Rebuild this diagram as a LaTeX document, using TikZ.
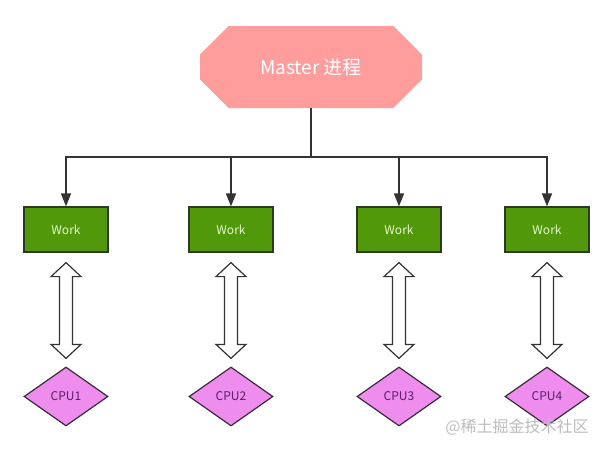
\documentclass[tikz,border=0pt]{standalone}
\usepackage{fontspec}
\setmainfont{Noto Sans CJK SC}
\usetikzlibrary{shapes.geometric,shapes.misc,arrows.meta,calc}
\definecolor{masterpink}{HTML}{FF9D9D}
\definecolor{workgreen}{HTML}{51980A}
\definecolor{workedge}{HTML}{2C3A22}
\definecolor{worktext}{HTML}{E4F7CC}
\definecolor{cpuviolet}{HTML}{EE8DEE}
\definecolor{cpuedge}{HTML}{3A2A3A}
\definecolor{cputext}{HTML}{5A1E66}
\definecolor{wire}{HTML}{333333}
\definecolor{marktext}{HTML}{BDBDBD}
\tikzset{
  masterbox/.style={chamfered rectangle, chamfered rectangle xsep=22pt,
    chamfered rectangle ysep=20pt, fill=masterpink, draw=none,
    minimum width=222pt, minimum height=82pt, inner sep=0pt,
    text=white, font=\fontsize{19}{22}\selectfont},
  workbox/.style={rectangle, fill=workgreen, draw=workedge, line width=1.2pt,
    minimum width=84pt, minimum height=45pt, inner sep=0pt,
    text=worktext, font=\fontsize{12}{14}\selectfont},
  cpubox/.style={diamond, aspect=1.42, fill=cpuviolet, draw=cpuedge, line width=1.2pt,
    minimum width=84pt, minimum height=59pt, inner sep=0pt,
    text=cputext, font=\fontsize{12}{14}\selectfont},
  wireline/.style={draw=wire, line width=1.5pt},
  feed/.style={wireline, -{Triangle[length=13pt,width=10pt]}},
  hollow/.style={draw=wire, fill=white, line width=1.2pt, line join=miter}
}
\begin{document}
\begin{tikzpicture}[x=1pt,y=-1pt]
\useasboundingbox[fill=white] (0,0) rectangle (614,451);

% master process
\node[masterbox] (master) at (311,67) {\raisebox{-2pt}{Master 进程}};

% workers
\node[workbox] (w1) at (66,229.5) {Work};
\node[workbox] (w2) at (231,229.5) {Work};
\node[workbox] (w3) at (399,229.5) {Work};
\node[workbox] (w4) at (547,229.5) {Work};

% cpus
\node[cpubox] (c1) at (66,396.5) {CPU1};
\node[cpubox] (c2) at (231,396.5) {CPU2};
\node[cpubox] (c3) at (399,396.5) {CPU3};
\node[cpubox] (c4) at (547,396.5) {CPU4};

% distribution bus
\coordinate (bus) at (311,157);
\draw[wireline] (master.south) -- (bus);
\draw[wireline, line cap=rect] (w1.north |- bus) -- (w4.north |- bus);
\foreach \i in {1,...,4}{
  \draw[feed] (w\i.north |- bus) -- (w\i.north);
}

% two-way links between workers and cpus
\foreach \i in {1,...,4}{
  \coordinate (t\i) at ($(w\i.south)+(0,10)$);
  \coordinate (b\i) at ($(c\i.north)+(0,-8)$);
  \draw[hollow] (t\i) -- ++(15,14) -- ++(-8.5,0) -- ($(b\i)+(6.5,-14)$)
    -- ++(8.5,0) -- (b\i) -- ++(-15,-14) -- ++(8.5,0)
    -- ($(t\i)+(-6.5,14)$) -- ++(-8.5,0) -- cycle;
}

% source mark
\node[text=marktext, font=\fontsize{16}{18}\selectfont, inner sep=0pt] (mark) at (517,427) {@稀土掘金技术社区};
\end{tikzpicture}
\end{document}
